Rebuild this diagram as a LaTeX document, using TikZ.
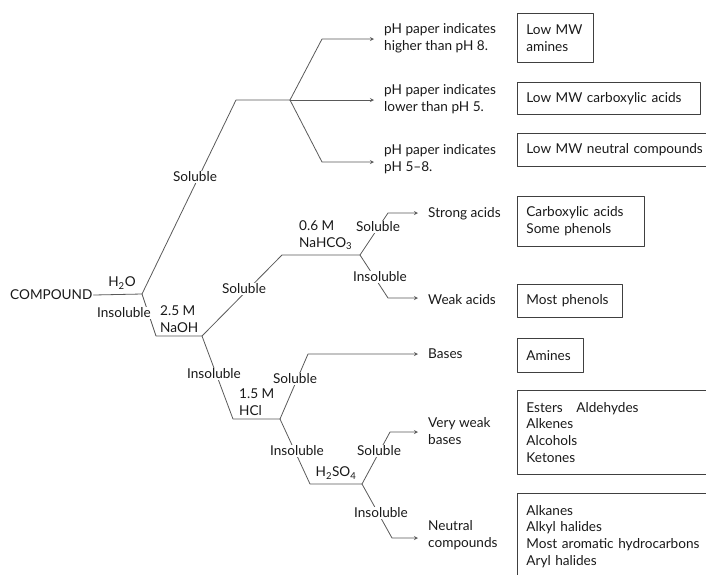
\documentclass[tikz,border=0pt]{standalone}
\usepackage{fontspec}
\setmainfont{Lato}
\begin{document}
\begin{tikzpicture}[x=1pt, y=-1pt, font=\fontsize{13.6}{16.8}\selectfont, line join=round, line cap=round, >=stealth,
  ln/.style={draw=black!65, line width=0.8pt},
  lbl/.style={fill=white, inner sep=1pt, text=black!90},
  txt/.style={anchor=west, inner sep=1pt, align=left, text=black!90},
  res/.style={draw=black!75, line width=0.8pt, anchor=north west, inner xsep=9pt, inner ysep=2pt, align=left, text=black!90}]
\clip (0,0) rectangle (706,574);
% branch points
\coordinate (w) at (142,294);
\coordinate (s1) at (236,100);
\coordinate (p) at (290,100);
\coordinate (p1) at (322,39);
\coordinate (p3) at (322,162);
\coordinate (n0) at (156,336);
\coordinate (n) at (202,336);
\coordinate (b0) at (282,255);
\coordinate (b) at (360,255);
\coordinate (b1) at (388,213);
\coordinate (b2) at (388,298);
\coordinate (h0) at (233,419);
\coordinate (h) at (280,419);
\coordinate (h1) at (308,354);
\coordinate (s0) at (310,484);
\coordinate (s) at (362,484);
\coordinate (v1) at (390,432);
\coordinate (v2) at (392,538);
% texts
\node[txt] (cmp) at (9,295) {COMPOUND};
\foreach \n/\x/\y/\t in {pa/383/38/{pH paper indicates\\higher than pH 8.},pb/383/99/{pH paper indicates\\lower than pH 5.},pc/383/159/{pH paper indicates\\pH 5–8.},sa/427/214/{Strong acids},wa/427/300/{Weak acids},ba/427/354/{Bases},vw/427/431/{Very weak\\bases},nc/427/535/{Neutral\\compounds}}
  \node[txt] (\n) at (\x,\y) {\t};
% results
\foreach \n/\x/\y/\w/\h/\t in {r1/517/13/58/49/{Low MW\\amines},r2/517/82/165/32/{Low MW carboxylic acids},r3/517/133/200/33/{Low MW neutral compounds},r4/517/196/109/50/{Carboxylic acids\\Some phenols},r5/517/284/87/33/{Most phenols},r6/517/338/48/34/{Amines},r7/517/390/200/84/{Esters\quad Aldehydes\\Alkenes\\Alcohols\\Ketones},r8/517/493/200/86/{Alkanes\\Alkyl halides\\Most aromatic hydrocarbons\\Aryl halides}}
  \node[res, text width=\w pt, minimum height=\h pt] (\n) at (\x,\y) {\t};
% connectors
\draw[ln] (cmp.east) -- (w) -- (s1) -- (p);
\draw[ln, ->, shorten >=9pt] (p) -- (p1) -- (p1 -| pa.west);
\draw[ln, ->, shorten >=9pt] (p) -- (p -| pb.west);
\draw[ln, ->, shorten >=9pt] (p) -- (p3) -- (p3 -| pc.west);
\draw[ln] (w) -- (n0) -- (n) -- (b0) -- (b);
\draw[ln, ->, shorten >=9pt] (b) -- (b1) -- (b1 -| sa.west);
\draw[ln, ->, shorten >=9pt] (b) -- (b2) -- (b2 -| wa.west);
\draw[ln] (n) -- (h0) -- (h);
\draw[ln, ->, shorten >=9pt] (h) -- (h1) -- (h1 -| ba.west);
\draw[ln] (h) -- (s0) -- (s);
\draw[ln, ->, shorten >=9pt] (s) -- (v1) -- (v1 -| vw.west);
\draw[ln, ->, shorten >=9pt] (s) -- (v2) -- (v2 -| nc.west);
% labels on the branches
\foreach \n/\x/\y/\t in {sol1/195/177/Soluble,ins1/124/313/Insoluble,sol2/244/289/Soluble,sol3/378/227/Soluble,ins3/380/277/Insoluble,ins2/214/374/Insoluble,sol4/295/379/Soluble,ins4/297/451/Insoluble,sol5/379/451/Soluble,ins5/381/513/Insoluble}
  \node[lbl] (\n) at (\x,\y) {\t};
\node[text=black!90, inner sep=1pt] (wat) at (122,283) {H\textsubscript{2}O};
\node[txt] (naoh) at (159,319) {2.5 M\\NaOH};
\node[txt] (bic) at (298,235) {0.6 M\\NaHCO\textsubscript{3}};
\node[txt] (hcl) at (238,402) {1.5 M\\HCl};
\node[text=black!90, inner sep=1pt] (sulf) at (336,473) {H\textsubscript{2}SO\textsubscript{4}};
\end{tikzpicture}
\end{document}
